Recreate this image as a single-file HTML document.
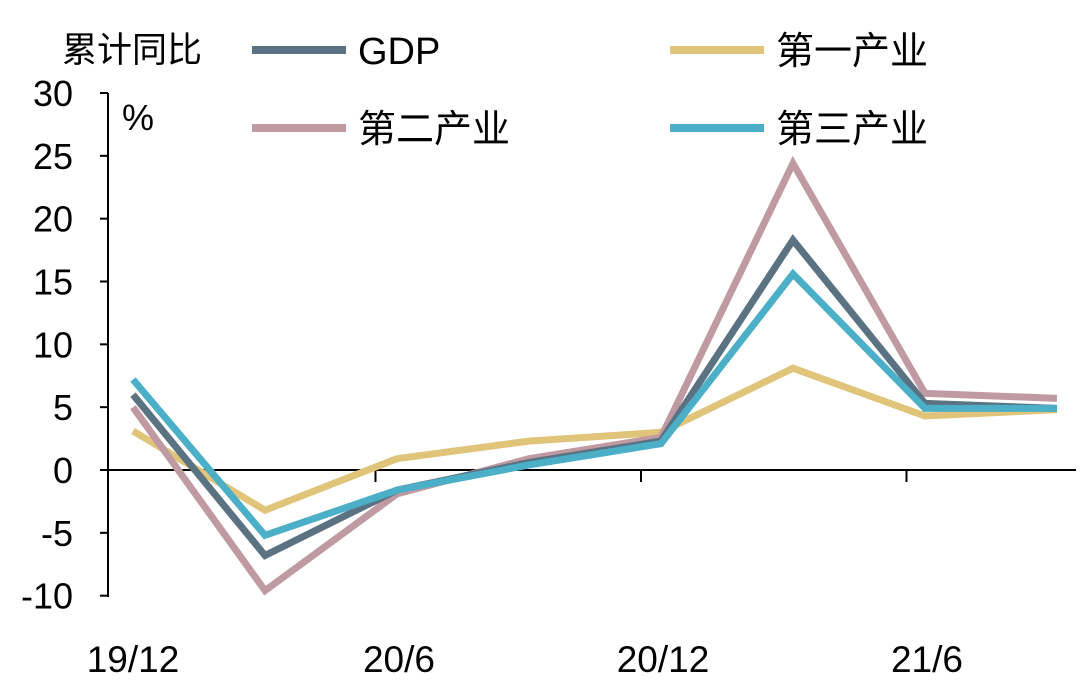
<!DOCTYPE html>
<html><head><meta charset="utf-8"><style>
body{margin:0;background:#fff;}
svg text{font-family:"Liberation Sans","Noto Sans CJK SC",sans-serif;fill:#000;}
</style></head><body>
<svg id="c" width="1080" height="687" xmlns="http://www.w3.org/2000/svg"></svg>
<script>
const categories=["19/12","20/3","20/6","20/9","20/12","21/3","21/6","21/9"];
const xLabels=["19/12","20/6","20/12","21/6"];
const yTicks=[30,25,20,15,10,5,0,-5,-10];
const gdp=[6.0,-6.8,-1.6,0.6,2.3,18.3,5.3,4.9];
const primary=[3.1,-3.2,0.9,2.3,3.0,8.1,4.3,4.8];
const secondary=[5.0,-9.6,-1.9,0.9,2.6,24.4,6.1,5.7];
const tertiary=[7.2,-5.2,-1.6,0.4,2.1,15.6,4.9,4.9];
const svg=document.getElementById('c');
const NS="http://www.w3.org/2000/svg";
function y(v){return 470-(v*(470-93)/30);}
function x(i){return 133+i*132;}
function mk(t,a){const e=document.createElementNS(NS,t);for(const k in a)e.setAttribute(k,a[k]);svg.appendChild(e);return e;}
let ax=mk('line',{x1:108,y1:93,x2:108,y2:597,stroke:'#000','stroke-width':2});


let xa=mk('line',{x1:108,y1:470,x2:1076,y2:470,stroke:'#000','stroke-width':2});


yTicks.forEach(v=>{
 const t=mk('line',{x1:100,y1:y(v),x2:108,y2:y(v),stroke:'#000','stroke-width':2});
 
 
 const l=mk('text',{x:73,y:y(v)+13,'text-anchor':'end','font-size':36});
 l.textContent=v;
 
 
});
[1,2,3].forEach(k=>{
 const tx=110+265.5*k;
 const t=mk('line',{x1:tx,y1:470,x2:tx,y2:482,stroke:'#000','stroke-width':2});
 
 
});
xLabels.forEach((s,k)=>{
 const i=categories.indexOf(s);
 const l=mk('text',{x:x(i)+(k?2:0),y:672,'text-anchor':'middle','font-size':37});
 l.textContent=s;
 
 
});
const series=[[primary,'#e0c47a','primary-industry-line'],[secondary,'#bf9aa3','secondary-industry-line'],[gdp,'#5a7282','gdp-line'],[tertiary,'#4bafc8','tertiary-industry-line']];
series.forEach(([d,c,n])=>{
 const p=mk('polyline',{points:d.map((v,i)=>x(i)+','+y(v)).join(' '),fill:'none',stroke:c,'stroke-width':7,'stroke-linejoin':'miter'});
 
 
});
let t=mk('text',{x:62,y:62,'font-size':35});t.textContent='累计同比';


t=mk('text',{x:122,y:130,'font-size':36});t.textContent='%';


const legend=[['GDP','#5a7282',252,50],['第一产业','#e0c47a',670,50],['第二产业','#bf9aa3',252,128],['第三产业','#4bafc8',670,128]];
legend.forEach(([s,c,lx,ly])=>{
 const l=mk('line',{x1:lx,y1:ly,x2:lx+94,y2:ly,stroke:c,'stroke-width':8});
 
 
 const tt=mk('text',{x:lx+106,y:ly+14,'font-size':38});tt.textContent=s;
 
 
});
</script>
</body></html>
